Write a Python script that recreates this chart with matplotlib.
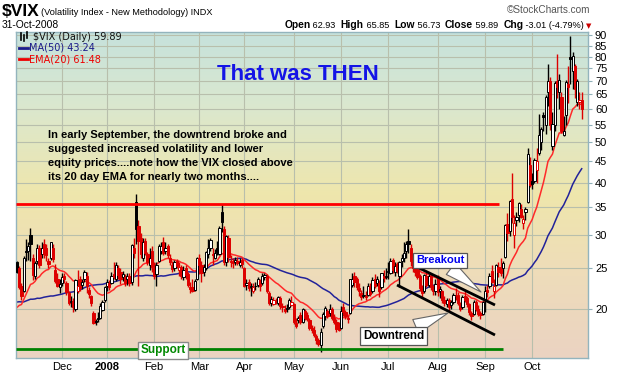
import matplotlib
matplotlib.use('Agg')
import matplotlib.pyplot as plt
import numpy as np
import pandas as pd
from matplotlib.colors import LinearSegmentedColormap
from matplotlib.ticker import FixedLocator, FixedFormatter, NullLocator
from matplotlib.lines import Line2D

plt.rcParams['font.family'] = ['Liberation Sans', 'DejaVu Sans']

# ---------------- data ----------------
# closes before the visible window (used only to seed MA50 / EMA20)
warmup_closes = [21.9, 20.7, 20.7, 22.6, 26.2, 22.2, 23.1, 23.4,
                 24.0, 24.1, 23.9, 26.2, 25.1, 23.1, 24.4, 23.6, 26.1, 26.5, 20.4, 20.0,
                 20.4, 20.5, 19.0, 18.6, 19.3, 18.9, 18.0,
                 18.4, 18.0, 18.5, 18.4, 17.0, 17.5, 16.7, 17.0, 16.6, 16.9, 17.4, 19.1,
                 20.2, 18.7, 18.5, 22.0, 21.6, 20.3, 21.2, 19.6, 19.0, 18.2, 18.5,
                 23.2]

# daily (open, high, low, close)
nov07 = [(25.8, 26.0, 24.3, 24.5), (25.0, 25.3, 22.3, 22.5), (22.6, 23.0, 21.0, 21.4),
         (22.0, 26.7, 21.9, 26.5), (27.5, 29.3, 26.0, 27.3), (27.5, 28.9, 26.2, 28.2),
         (30.0, 31.2, 26.0, 28.5), (26.5, 27.0, 23.4, 24.1), (24.0, 26.0, 23.5, 25.7),
         (26.0, 28.6, 25.6, 27.9), (28.0, 28.4, 25.0, 25.5), (27.0, 28.8, 26.4, 28.0),
         (28.5, 29.3, 26.5, 27.0), (28.0, 28.5, 26.0, 26.8), (26.0, 26.5, 25.0, 25.6),
         (26.5, 28.9, 26.2, 28.9), (28.0, 28.5, 25.8, 26.3), (24.8, 25.6, 23.0, 23.3),
         (23.5, 24.3, 22.5, 22.7), (22.5, 23.5, 21.8, 22.9)]
dec07 = [(23.0, 24.4, 22.7, 23.8), (24.0, 24.4, 23.0, 23.6), (23.0, 23.3, 21.6, 21.9),
         (21.8, 22.0, 20.4, 20.6), (20.8, 21.4, 20.2, 20.9), (20.9, 21.2, 19.6, 20.2),
         (20.0, 23.6, 19.8, 23.4), (22.0, 24.7, 21.8, 22.6), (23.5, 23.9, 22.0, 22.4),
         (22.8, 23.6, 22.3, 23.2), (23.5, 24.8, 23.2, 24.5), (24.0, 24.5, 21.8, 22.6),
         (22.2, 22.5, 21.2, 21.7), (21.5, 21.6, 20.3, 20.6), (19.5, 19.8, 18.4, 18.5),
         (18.6, 18.9, 18.3, 18.6), (19.0, 19.6, 18.6, 18.9), (19.0, 20.6, 18.9, 20.3),
         (19.9, 21.0, 19.8, 20.7), (21.0, 22.7, 20.8, 22.5)]
jan08 = [(22.6, 23.6, 22.0, 23.2), (23.0, 23.4, 22.2, 22.5), (23.0, 24.5, 22.9, 23.9),
         (24.2, 25.8, 23.5, 23.8), (23.5, 25.8, 23.3, 25.4), (25.0, 25.5, 23.6, 24.1),
         (24.5, 25.0, 22.9, 23.5), (23.8, 24.6, 23.3, 24.2), (23.8, 24.2, 22.6, 23.0),
         (23.5, 24.4, 22.8, 23.9), (24.0, 24.4, 22.6, 23.0), (23.2, 28.5, 22.8, 28.4),
         (28.0, 29.5, 26.5, 27.2), (36.0, 37.6, 28.5, 31.0), (31.5, 32.5, 22.6, 29.0),
         (29.5, 30.3, 26.5, 27.0), (26.5, 29.5, 26.0, 28.9), (29.0, 29.5, 26.8, 27.2),
         (27.0, 27.3, 25.4, 25.8), (25.5, 28.0, 24.8, 26.5), (27.5, 28.2, 24.5, 25.2)]
feb08 = [(25.0, 25.8, 23.6, 24.0), (24.2, 25.8, 22.6, 25.5), (26.0, 28.5, 25.8, 28.2),
         (27.5, 28.8, 27.0, 28.3), (28.8, 29.6, 26.8, 27.1), (27.4, 28.8, 27.0, 28.0),
         (28.3, 28.6, 26.5, 26.9), (26.5, 27.0, 25.4, 25.8), (25.5, 26.0, 24.5, 24.9),
         (25.0, 26.2, 24.6, 25.9), (26.0, 26.3, 25.0, 25.3), (24.8, 25.8, 24.0, 25.1),
         (25.2, 25.4, 23.6, 24.0), (23.8, 25.3, 23.4, 24.8), (25.0, 25.5, 23.6, 24.1),
         (24.2, 24.5, 22.5, 22.8), (22.5, 23.2, 21.8, 22.3), (22.5, 23.5, 21.9, 22.0),
         (22.2, 23.5, 22.0, 23.3), (23.5, 26.6, 23.4, 26.5)]
mar08 = [(26.5, 27.0, 24.2, 25.4), (25.5, 26.0, 23.2, 24.3), (24.5, 25.6, 24.0, 25.2),
         (25.0, 27.5, 24.8, 27.3), (27.0, 29.4, 26.5, 28.0), (28.0, 29.5, 27.5, 29.2),
         (27.0, 27.9, 25.5, 26.9), (26.5, 27.8, 26.3, 27.1), (28.0, 29.0, 26.8, 27.3),
         (27.0, 31.5, 26.8, 31.2), (34.0, 35.6, 30.5, 32.2), (31.0, 31.5, 25.5, 25.8),
         (25.8, 30.0, 25.3, 29.8), (29.5, 30.0, 25.9, 26.6), (26.0, 26.8, 25.2, 25.8),
         (25.8, 26.4, 25.0, 25.7), (25.9, 26.6, 25.5, 26.2), (26.0, 26.6, 25.4, 25.7),
         (25.5, 26.5, 25.2, 25.9), (26.2, 26.5, 25.0, 25.6)]
apr08 = [(25.0, 25.2, 22.5, 22.7), (22.8, 23.6, 22.2, 23.0), (23.2, 23.5, 22.0, 22.4),
         (22.5, 23.0, 21.5, 22.6), (22.0, 23.0, 21.8, 22.5), (22.6, 23.2, 22.2, 22.6),
         (22.8, 23.8, 22.5, 23.5), (23.4, 23.6, 22.0, 22.6), (23.0, 24.3, 22.8, 23.9),
         (23.8, 24.4, 23.4, 24.1), (24.0, 24.2, 21.8, 22.0), (21.8, 22.0, 20.4, 20.6),
         (20.6, 21.4, 20.3, 21.1), (20.5, 21.3, 20.4, 21.0), (20.8, 21.2, 20.5, 20.8),
         (20.6, 21.4, 20.4, 21.3), (21.2, 21.5, 20.0, 20.3), (20.2, 20.6, 19.6, 20.2),
         (20.0, 20.4, 19.5, 19.8), (20.0, 20.5, 19.6, 20.1), (20.2, 21.2, 20.0, 21.0),
         (20.4, 21.5, 20.3, 20.8)]
may08 = [(20.5, 20.6, 18.4, 18.6), (18.5, 19.0, 18.0, 18.2), (18.8, 19.2, 18.5, 19.0),
         (19.3, 19.6, 18.4, 18.6), (18.6, 20.1, 18.5, 20.0), (19.8, 20.0, 18.8, 19.0),
         (19.3, 19.6, 18.7, 18.9), (18.8, 19.0, 17.8, 18.0), (18.0, 18.3, 17.5, 17.8),
         (17.8, 18.2, 17.1, 17.3), (17.2, 17.4, 16.5, 16.8), (16.8, 17.0, 16.3, 16.5),
         (16.4, 18.0, 15.8, 17.6), (18.2, 19.6, 18.0, 19.4), (19.2, 20.3, 18.8, 20.1),
         (19.8, 20.0, 19.0, 19.2), (19.5, 20.5, 19.2, 20.0), (20.0, 20.2, 18.8, 19.0),
         (19.0, 19.4, 18.4, 18.6), (18.6, 18.9, 17.6, 17.9), (18.0, 18.6, 17.7, 17.8)]
jun08 = [(18.0, 20.3, 17.9, 19.8), (20.2, 20.6, 19.2, 19.6), (19.6, 19.9, 18.9, 19.2),
         (19.0, 19.3, 18.5, 18.9), (19.5, 23.6, 19.4, 23.6), (22.8, 24.3, 22.5, 23.6),
         (24.0, 24.5, 22.5, 23.1), (23.5, 23.8, 22.2, 22.5), (22.4, 23.0, 21.5, 22.0),
         (21.8, 22.2, 21.0, 21.3), (21.5, 22.6, 21.2, 21.6), (21.5, 22.0, 21.0, 21.3),
         (21.6, 23.0, 21.4, 22.6), (22.6, 23.0, 21.4, 21.7), (22.0, 23.8, 21.8, 23.4),
         (23.5, 24.2, 22.4, 22.7), (23.0, 24.0, 22.6, 23.5), (23.0, 23.4, 21.3, 22.0),
         (22.5, 24.4, 22.3, 24.3), (24.0, 24.8, 23.2, 23.7), (23.8, 25.0, 23.5, 24.0)]
jul08 = [(24.5, 25.8, 23.6, 24.6), (24.4, 26.4, 24.2, 26.0), (26.2, 26.5, 24.3, 24.8),
         (24.5, 25.8, 24.0, 25.3), (25.6, 25.8, 24.3, 24.6), (24.0, 26.0, 22.5, 25.8),
         (26.0, 27.0, 25.2, 26.5), (26.5, 28.9, 25.8, 27.1), (27.5, 29.0, 26.5, 28.5),
         (29.0, 31.0, 27.2, 28.6), (28.0, 28.5, 25.3, 26.0), (26.0, 26.8, 24.5, 25.0),
         (25.2, 25.6, 24.0, 24.5), (24.8, 25.0, 23.5, 23.8), (24.0, 24.2, 22.0, 22.4),
         (22.4, 22.8, 21.2, 21.8), (22.0, 24.2, 21.8, 24.1), (24.0, 24.5, 22.5, 22.8),
         (22.8, 24.2, 22.5, 24.0), (24.0, 24.2, 22.2, 22.5), (22.5, 22.8, 21.6, 22.0),
         (22.0, 23.5, 21.6, 22.9)]
aug08 = [(23.8, 24.1, 21.5, 21.9), (22.0, 22.6, 21.2, 22.3), (22.0, 22.2, 20.6, 21.0),
         (21.0, 21.4, 20.3, 20.6), (20.5, 21.2, 20.2, 21.0), (21.0, 21.2, 19.8, 20.2),
         (20.4, 21.0, 20.0, 20.7), (20.7, 21.8, 20.5, 21.6), (21.5, 22.4, 21.0, 21.4),
         (21.6, 21.9, 20.4, 20.6), (20.5, 20.8, 19.8, 20.0), (20.2, 21.6, 20.0, 21.3),
         (21.5, 22.0, 20.8, 21.0), (21.2, 21.5, 20.2, 20.5), (20.5, 20.6, 19.3, 19.6),
         (19.5, 19.8, 18.8, 19.2), (19.4, 21.0, 19.3, 20.8), (20.8, 21.0, 19.8, 20.0),
         (20.0, 20.4, 19.2, 19.4), (19.5, 19.7, 18.9, 19.3), (19.4, 20.9, 19.3, 20.7)]
sep08 = [(21.0, 22.6, 19.6, 22.0), (22.2, 22.8, 21.3, 21.9), (22.6, 24.3, 22.4, 24.0),
         (24.6, 25.5, 23.0, 23.1), (22.0, 23.5, 21.2, 22.6), (22.8, 25.6, 22.6, 25.5),
         (25.2, 25.8, 23.8, 24.5), (25.0, 26.5, 24.0, 24.4), (25.0, 26.0, 23.7, 25.7),
         (26.6, 31.8, 26.5, 31.7), (31.8, 33.8, 29.0, 30.3), (30.6, 36.4, 29.9, 36.2),
         (36.5, 42.2, 32.0, 33.1), (30.0, 33.5, 27.9, 32.1), (32.5, 34.0, 31.5, 33.1),
         (33.5, 36.0, 32.3, 35.7), (34.6, 35.6, 33.0, 33.1), (32.0, 33.5, 31.0, 32.8),
         (34.0, 35.0, 32.6, 34.7), (36.0, 48.4, 35.7, 46.7), (44.0, 46.0, 39.0, 39.4)]
oct08 = [(40.4, 42.2, 38.6, 39.8), (40.4, 45.9, 40.0, 45.3), (43.0, 48.5, 40.0, 45.1),
         (47.0, 58.2, 46.5, 52.1), (50.0, 54.2, 47.8, 53.7), (58.0, 59.1, 53.0, 57.5),
         (55.0, 64.9, 52.2, 63.9), (65.9, 76.9, 61.0, 70.0), (70.0, 71.5, 53.5, 55.0),
         (49.0, 59.0, 47.8, 55.1), (55.0, 69.9, 53.0, 69.3), (70.0, 81.2, 63.7, 67.6),
         (66.0, 72.6, 60.0, 70.3), (64.0, 66.0, 52.5, 53.0), (52.0, 57.7, 51.8, 53.1),
         (58.0, 70.3, 55.0, 69.7), (69.0, 76.0, 62.0, 67.8), (80.0, 89.5, 69.0, 79.1),
         (74.0, 81.9, 67.0, 80.1), (76.0, 77.0, 63.8, 67.0), (62.4, 70.6, 61.0, 70.0),
         (62.5, 66.0, 60.0, 62.9), (62.93, 65.85, 56.73, 59.89)]

month_labels = ['Nov', 'Dec', '2008', 'Feb', 'Mar', 'Apr', 'May', 'Jun', 'Jul', 'Aug', 'Sep', 'Oct']
y_ticks = [20, 25, 30, 35, 40, 45, 50, 55, 60, 65, 70, 75, 80, 85, 90]
resistance_level = 35.5
support_level = 16.05

# ---------------- prepare ----------------
months = [nov07, dec07, jan08, feb08, mar08, apr08, may08, jun08, jul08, aug08, sep08, oct08]
ohlc = np.array([bar for m in months for bar in m], dtype=float)
o, h, l, c = ohlc.T
n = len(c)
idx = np.arange(n)
starts = np.cumsum([0] + [len(m) for m in months[:-1]])

all_close = pd.Series(list(warmup_closes) + list(c))
nw = len(warmup_closes)
ma50 = all_close.rolling(50).mean().values[nw:]
ema20 = all_close.ewm(span=20, adjust=False).mean().values[nw:]

W, H = 620, 376
L, R, T, B = 16, 588, 32, 358
fig = plt.figure(figsize=(W / 100, H / 100), dpi=100)
fig.patch.set_facecolor('white')

def fx(x):
    return x / W

def fy(y):
    return 1 - y / H

rect = [L / W, 1 - B / H, (R - L) / W, (B - T) / H]
bg = fig.add_axes(rect, zorder=0)
cmap = LinearSegmentedColormap.from_list('bg', [(0.0, '#c6e2dc'), (0.22, '#dae8cf'),
                                                 (0.5, '#efe6ac'), (0.75, '#eedcba'),
                                                 (1.0, '#ebd3c2')])
grad = np.linspace(0, 1, 256).reshape(-1, 1)
bg.imshow(grad, aspect='auto', cmap=cmap, extent=[0, 1, 1, 0])
bg.set_axis_off()

ax = fig.add_axes(rect, zorder=1)
ax.set_facecolor('none')
ax.set_yscale('log')
ax.set_xlim(-0.44, 253.8)
ax.set_ylim(15.25, 91.6)

def px2data(x, y):
    return ax.transData.inverted().transform((x, H - y))

# grid
ax.yaxis.set_major_locator(FixedLocator(y_ticks))
ax.yaxis.set_major_formatter(FixedFormatter([str(v) for v in y_ticks]))
ax.yaxis.set_minor_locator(NullLocator())
ax.yaxis.tick_right()
ax.tick_params(axis='y', which='major', labelsize=8, length=3, color='#8fb0b8', pad=2)
ax.xaxis.set_major_locator(FixedLocator(starts[1:]))
ax.xaxis.set_major_formatter(FixedFormatter(month_labels[1:]))
ax.xaxis.set_minor_locator(NullLocator())
ax.tick_params(axis='x', which='major', labelsize=8, length=0, pad=3)
for t in ax.get_xticklabels():
    if t.get_text() == '2008':
        t.set_fontweight('bold')
ax.grid(True, which='major', color='#b8bfac', lw=0.8)
ax.set_axisbelow(True)
for s in ax.spines.values():
    s.set_color('#93b4bd')
    s.set_linewidth(1.0)

# moving averages
ax.plot(idx, ma50, color='#22229a', lw=1.1, zorder=2)
ax.plot(idx, ema20, color='#ff2a2a', lw=1.1, zorder=2)

# candles
red = '#dd0000'
prev_close = np.r_[warmup_closes[-1], c[:-1]]
cols = np.where(c >= prev_close, '#000000', red)
faces = [('white' if ci > oi else col) for ci, oi, col in zip(c, o, cols)]
ax.vlines(idx, l, h, colors=cols, lw=1.0, zorder=3)
body_lo = np.minimum(o, c)
body_h = np.maximum(np.abs(c - o), 0.05)
ax.bar(idx, body_h, bottom=body_lo, width=0.95, color=faces, edgecolor=cols, lw=0.7, zorder=4)

# support / resistance
x_res_end = px2data(499, 0)[0]
x_sup_end = px2data(503, 0)[0]
ax.hlines(resistance_level, -0.44, x_res_end, color='#ff0000', lw=2, zorder=5)
ax.hlines(support_level, -0.44, x_sup_end, color='#008000', lw=2, zorder=5)

# downtrend channel
p1, p2 = px2data(417, 267), px2data(495, 305)
p3, p4 = px2data(397, 285), px2data(495, 335)
ax.plot([p1[0], p2[0]], [p1[1], p2[1]], color='black', lw=2, zorder=6, solid_capstyle='butt')
ax.plot([p3[0], p4[0]], [p3[1], p4[1]], color='black', lw=2, zorder=6, solid_capstyle='butt')

# callouts
box = dict(boxstyle='square,pad=0.25', fc='white', ec='#555555', lw=0.9)
sb = px2data(163, 350.5)
ax.text(sb[0], sb[1], 'Support', color='#008800', fontsize=8.5, fontweight='bold',
        ha='center', va='center', bbox=dict(boxstyle='square,pad=0.2', fc='white', ec='#8a8a8a', lw=1),
        zorder=8)
bt, bc = px2data(481, 292), px2data(440, 260.5)
ax.annotate('Breakout', xy=bt, xytext=bc, color='#0000ee', fontsize=8, fontweight='bold',
            ha='center', va='center', bbox=box, zorder=8,
            arrowprops=dict(arrowstyle='wedge,tail_width=1.3,shrink_factor=0.5', fc='white',
                            ec='#666666', lw=0.8, shrinkA=0, shrinkB=0))
dt, dc = px2data(448, 313), px2data(393.5, 336)
ax.annotate('Downtrend', xy=dt, xytext=dc, color='black', fontsize=8.5, fontweight='bold',
            ha='center', va='center', bbox=box, zorder=8,
            arrowprops=dict(arrowstyle='wedge,tail_width=1.3,shrink_factor=0.5', fc='white',
                            ec='#666666', lw=0.8, shrinkA=0, shrinkB=0))

# big title and comment
fig.text(fx(298), fy(80), 'That was THEN', color='#1414e6', fontsize=16, fontweight='bold',
         ha='center', va='baseline', zorder=10)
para = ['In early September, the downtrend broke and',
        'suggested increased volatility and lower',
        'equity prices....note how the VIX closed above',
        'its 20 day EMA for nearly two months....']
for k, line in enumerate(para):
    fig.text(fx(48), fy(138 + 14 * k), line, fontsize=8, fontweight='bold', color='black',
             ha='left', va='baseline', zorder=10)

# legend in plot
fig.text(fx(33), fy(40.5), '$VIX (Daily) 59.89', fontsize=7, family='DejaVu Sans',
         color='#111111', va='baseline', zorder=10)
fig.text(fx(29), fy(51), 'MA(50) 43.24', fontsize=7, family='DejaVu Sans',
         color='#1a1a8a', va='baseline', zorder=10)
fig.text(fx(29), fy(62), 'EMA(20) 61.48', fontsize=7, family='DejaVu Sans',
         color='#ee0000', va='baseline', zorder=10)
fig.add_artist(Line2D([fx(19.5), fx(27.5)], [fy(47.5), fy(47.5)], color='#1a1a8a', lw=2))
fig.add_artist(Line2D([fx(19.5), fx(27.5)], [fy(58.5), fy(58.5)], color='#ee0000', lw=2))
for xi, (ya, yb) in zip([21, 24, 27], [(33, 40), (35, 41), (32, 38)]):
    fig.add_artist(Line2D([fx(xi), fx(xi)], [fy(yb), fy(ya)], color='black', lw=1.2))

# header
fig.text(fx(2), fy(16), '$VIX', fontsize=12.5, fontweight='bold', va='baseline')
fig.text(fx(41), fy(15), '(Volatility Index - New Methodology) INDX', fontsize=6.6, va='baseline')
fig.text(fx(2), fy(28), '31-Oct-2008', fontsize=7.4, va='baseline')
fig.text(fx(590), fy(13), '\u00a9StockCharts.com', fontsize=7.2, color='#555555',
         ha='right', va='baseline')

pieces = [('Open', True), (' 62.93  ', False), ('High', True), (' 65.85  ', False),
          ('Low', True), (' 56.73  ', False), ('Close', True), (' 59.89  ', False),
          ('Chg', True), (' -3.01 (-4.79%)', False)]
renderer = fig.canvas.get_renderer()
texts = []
for s, bold in pieces:
    t = fig.text(0, fy(28), s, fontsize=7.4 if bold else 6.6,
                 fontweight='bold' if bold else 'normal', va='baseline')
    texts.append(t)
widths = [t.get_window_extent(renderer).width for t in texts]
x0 = 584 - sum(widths)
for t, w in zip(texts, widths):
    t.set_x(fx(x0))
    x0 += w
fig.text(fx(586), fy(28), '\u25bc', fontsize=5, color='#cc0000', family='DejaVu Sans',
         va='baseline')

fig.savefig('out.png', dpi=100)
